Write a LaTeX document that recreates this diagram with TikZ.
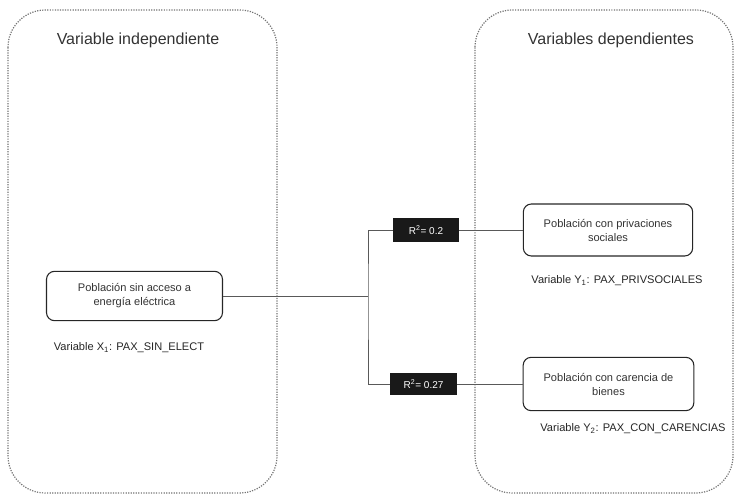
\documentclass[tikz,border=0pt]{standalone}
\usepackage{fontspec}
\setmainfont{Liberation Sans}
\begin{document}
\begin{tikzpicture}[x=0.75pt,y=-0.75pt]
		\tikzstyle{panel}=[draw=black!55,densely dotted,line width=0.9pt,rounded corners=28pt]
		\tikzstyle{title}=[text=black!80,font=\fontsize{12}{14}\selectfont]
		\tikzstyle{vbox}=[draw=black!85,line width=0.8pt,rounded corners=6pt,align=center,inner sep=2pt,text=black!80,font=\fontsize{8.3}{10.5}\selectfont]
		\tikzstyle{vname}=[text=black!85,font=\fontsize{8.3}{10}\selectfont]
		\tikzstyle{rbox}=[fill=black!90,text=white,inner sep=0pt,font=\fontsize{7.5}{9}\selectfont]
		\tikzstyle{link}=[draw=black!65,line width=0.7pt]
		\useasboundingbox (0,0) rectangle (738,495);
		\draw[panel] (8,10) rectangle (277,493);
		\draw[panel] (475,10) rectangle (733,493);
		\node[title] (t_1) at (138,40) {Variable independiente};
		\node[title] (t_2) at (611,40) {Variables dependientes};
		\node[vbox,minimum width=132pt,minimum height=37pt] (g_x) at (134.5,296) {Población sin acceso a\\energía eléctrica};
		\node[vname] (n_x) at (129,348) {Variable X\textsubscript{1}: PAX\_SIN\_ELECT};
		\node[vbox,minimum width=127pt,minimum height=39pt] (g_y1) at (608,230) {Población con privaciones\\sociales};
		\node[vname] (n_y1) at (617,281) {Variable Y\textsubscript{1}: PAX\_PRIVSOCIALES};
		\node[vbox,minimum width=128pt,minimum height=40pt] (g_y2) at (608.5,384) {Población con carencia de\\bienes};
		\node[vname] (n_y2) at (633,429) {Variable Y\textsubscript{2}: PAX\_CON\_CARENCIAS};
		\node[rbox,minimum width=49.5pt,minimum height=18pt] (r_1) at (426,230) {R\textsuperscript{2}= 0.2};
		\node[rbox,minimum width=50pt,minimum height=17pt] (r_2) at (423.5,384) {R\textsuperscript{2}= 0.27};
		\coordinate (j) at (368,296);
		\draw[link] (g_x.east) -- (j) (r_1.west) -| (j) |- (r_2.west) (r_1) -- (g_y1) (r_2) -- (g_y2);
	\end{tikzpicture}
\end{document}
